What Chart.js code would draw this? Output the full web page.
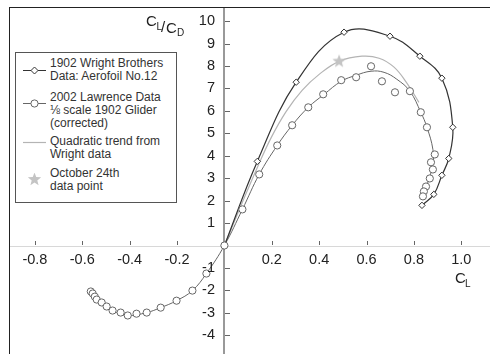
<!DOCTYPE html>
<html>
<head>
<meta charset="utf-8">
<script src="https://cdn.jsdelivr.net/npm/chart.js@4.4.1/dist/chart.umd.min.js"></script>
<style>
  html, body { margin: 0; padding: 0; background: #fff; }
  #marco { position: relative; width: 490px; height: 354px; overflow: hidden; }
  #grafico { position: absolute; left: 0; top: 0; }
  #borde { position: absolute; left: 9px; top: 7px; width: 500px; height: 400px; border-top: 1.5px solid #222; border-left: 1.5px solid #222; pointer-events: none; }
  #leyenda { position: absolute; left: 15px; top: 52px; width: 160px; height: 149px; border: 1px solid #555; background: #fff; font: 12px "Liberation Sans", Arial, sans-serif; color: #333; }
  .texto { position: absolute; left: 34px; line-height: 13.3px; white-space: nowrap; }
  .icono { position: absolute; left: 7px; }
</style>
</head>
<body>
<div id="marco">
  <canvas id="grafico" width="490" height="354"></canvas>
  <div id="borde"></div>
  <div id="leyenda"></div>
</div>
<script>
// 1902 Wright Brothers, Aerofoil No.12 (C_L vs L/D)
const wrightCL = [0.0, 0.139, 0.303, 0.505, 0.699, 0.825, 0.918, 0.964, 0.947, 0.918, 0.884, 0.834]
const wrightLD = [0.0, 3.75, 7.28, 9.51, 9.33, 8.44, 7.46, 5.27, 3.88, 3.13, 2.28, 1.79]

// 2002 Lawrence data, 1/8 scale glider (measured points)
const lawrenceCL = [-0.564, -0.556, -0.547, -0.539, -0.518, -0.497, -0.472, -0.438, -0.408, -0.371, -0.328, -0.269, -0.202, -0.135, -0.076,
  0.0, 0.076, 0.147, 0.223, 0.286, 0.354, 0.417, 0.493, 0.556, 0.619, 0.665, 0.720, 0.783, 0.829, 0.855, 0.888, 0.872, 0.880, 0.867, 0.851, 0.842, 0.838]
const lawrenceLD = [-2.05, -2.14, -2.28, -2.41, -2.54, -2.72, -2.90, -2.99, -3.12, -3.04, -2.99, -2.77, -2.46, -2.01, -1.25,
  0.0, 1.61, 3.17, 4.46, 5.36, 6.16, 6.74, 7.37, 7.50, 7.99, 7.32, 6.83, 6.88, 5.94, 5.27, 4.06, 3.71, 3.39, 2.99, 2.63, 2.41, 2.19]

// smooth curve through the Lawrence points
const curvaLawrenceCL = [-0.564, -0.526, -0.472, -0.408, -0.328, -0.269, -0.202, -0.135, -0.076, 0.0, 0.076, 0.147, 0.223, 0.286,
  0.354, 0.421, 0.493, 0.556, 0.619, 0.674, 0.728, 0.783, 0.829, 0.855, 0.880, 0.880, 0.863, 0.838]
const curvaLawrenceLD = [-2.05, -2.50, -2.90, -3.12, -2.99, -2.77, -2.46, -2.01, -1.25, 0.0, 1.61, 3.17, 4.46, 5.36,
  6.16, 6.74, 7.32, 7.59, 7.77, 7.72, 7.41, 6.88, 5.94, 5.27, 4.29, 3.62, 2.95, 2.19]

// quadratic trend from the Wright data
const tendenciaCL = [0.0, 0.072, 0.139, 0.198, 0.261, 0.328, 0.400, 0.484, 0.581, 0.653, 0.716, 0.771, 0.821]
const tendenciaLD = [0.0, 1.83, 3.48, 4.82, 5.98, 6.92, 7.63, 8.21, 8.44, 8.35, 7.95, 7.23, 6.38]

// October 24th
const octubreCL = [0.484]
const octubreLD = [8.21]

// axis ranges (x range kept off a whole number of steps so ticks stay on multiples of 0.2)
const xMin = -0.905, xMax = 1.1
const yMin = -4.614, yMax = 10.588

const puntos = (xs, ys) => xs.map((v, i) => ({ x: v, y: ys[i] }))

// filled five point star used as marker
function hacerEstrella(radio, color)
{
  const c = document.createElement('canvas')
  c.width = c.height = radio * 2 + 2
  const g = c.getContext('2d')
  g.beginPath()
  for (let i = 0; i < 10; i++)
  {
    const r = i % 2 === 0 ? radio : radio * 0.42
    const a = -Math.PI / 2 + i * Math.PI / 5
    g.lineTo(c.width / 2 + r * Math.cos(a), c.height / 2 + r * Math.sin(a))
  }
  g.closePath()
  g.fillStyle = color
  g.fill()
  return c
}
const estrella = hacerEstrella(7, '#c4c4c4')

const fuente = '"Liberation Sans", Arial, sans-serif'

// axis lines, tick marks, y tick labels and axis titles
const marcasEjes = {
  id: 'marcasEjes',
  beforeDatasetsDraw(chart)
  {
    const { ctx, scales: { x, y } } = chart
    const x0 = Math.round(x.getPixelForValue(0))
    const y0 = Math.round(y.getPixelForValue(0))
    ctx.save()
    // the axes run to the edges of the canvas
    ctx.strokeStyle = '#d8d8d8'
    ctx.lineWidth = 1
    ctx.beginPath()
    ctx.moveTo(10, y0 + 0.5)
    ctx.lineTo(chart.width, y0 + 0.5)
    ctx.stroke()
    ctx.strokeStyle = '#777'
    ctx.lineWidth = 1.5
    ctx.beginPath()
    ctx.moveTo(x0, 8)
    ctx.lineTo(x0, chart.height)
    ctx.stroke()
    ctx.restore()
  },
  afterDraw(chart)
  {
    const { ctx, scales: { x, y } } = chart
    const x0 = Math.round(x.getPixelForValue(0))
    const y0 = Math.round(y.getPixelForValue(0))
    ctx.save()
    ctx.strokeStyle = '#666'
    ctx.lineWidth = 1
    ctx.beginPath()
    x.ticks.forEach(t => {
      if (Math.abs(t.value) < 1e-9) return
      const px = Math.round(x.getPixelForValue(t.value)) + 0.5
      ctx.moveTo(px, y0 - 5)
      ctx.lineTo(px, y0 - 1)
    })
    y.ticks.forEach(t => {
      if (Math.abs(t.value) < 1e-9) return
      const py = Math.round(y.getPixelForValue(t.value)) + 0.5
      ctx.moveTo(x0 + 1, py)
      ctx.lineTo(x0 + 6, py)
    })
    ctx.stroke()

    // y labels sit to the left of the axis, away from it
    ctx.fillStyle = '#222'
    ctx.font = '14.5px ' + fuente
    ctx.textAlign = 'right'
    ctx.textBaseline = 'middle'
    y.ticks.forEach(t => {
      if (Math.abs(t.value) < 1e-9) return
      ctx.fillText(String(t.value), x0 - 9, y.getPixelForValue(t.value))
    })

    ctx.textBaseline = 'alphabetic'
    ctx.textAlign = 'left'
    const texto = (s, px, py, tam) => { ctx.font = tam + 'px ' + fuente; ctx.fillText(s, px, py) }
    texto('C', 146, 26, 15)
    texto('L', 156.5, 30, 10)
    texto('/', 161, 32, 15)
    texto('C', 166, 33, 15)
    texto('D', 177, 36, 10)
    texto('C', 455, 283, 15)
    texto('L', 465, 287, 10)
    ctx.restore()
  }
}

const ctx = document.getElementById('grafico').getContext('2d')
const chart = new Chart(ctx, {
  type: 'scatter',
  data: {
    datasets: [
      {
        label: 'October 24th data point',
        data: puntos(octubreCL, octubreLD),
        pointStyle: estrella,
        order: 0
      },
      {
        label: '2002 Lawrence Data',
        data: puntos(lawrenceCL, lawrenceLD),
        showLine: false,
        pointStyle: 'circle',
        pointRadius: 3.6,
        pointBorderWidth: 1,
        pointBorderColor: '#666',
        pointBackgroundColor: '#fff',
        order: 1
      },
      {
        label: '1902 Wright Brothers',
        data: puntos(wrightCL, wrightLD),
        showLine: true,
        tension: 0.4,
        borderColor: '#333',
        borderWidth: 1.2,
        pointStyle: 'rectRot',
        pointRadius: 3.2,
        pointBorderWidth: 1,
        pointBorderColor: '#333',
        pointBackgroundColor: '#fff',
        order: 2
      },
      {
        label: 'Lawrence curve',
        data: puntos(curvaLawrenceCL, curvaLawrenceLD),
        showLine: true,
        tension: 0.4,
        borderColor: '#666',
        borderWidth: 1,
        pointRadius: 0,
        order: 3
      },
      {
        label: 'Quadratic trend from Wright data',
        data: puntos(tendenciaCL, tendenciaLD),
        showLine: true,
        tension: 0.4,
        borderColor: '#b4b4b4',
        borderWidth: 1.2,
        pointRadius: 0,
        order: 4
      }
    ]
  },
  options: {
    responsive: false,
    animation: false,
    // chart area ends up at 10..485 x 8..349
    layout: { padding: { left: 10, top: 8, right: 0, bottom: 0 } },
    plugins: { legend: { display: false }, tooltip: { enabled: false } },
    scales: {
      x: {
        type: 'linear',
        position: { y: 0 },
        min: xMin,
        max: xMax,
        afterFit: (escala) => { escala.height = 0 },
        border: { display: false },
        grid: { display: false, drawTicks: false, tickLength: 0 },
        ticks: {
          stepSize: 0.2,
          includeBounds: false,
          autoSkip: false,
          maxRotation: 0,
          padding: 6,
          color: '#222',
          font: { family: fuente, size: 14.5 },
          callback: (v) => Math.abs(v) < 1e-9 ? '' : v.toFixed(1)
        }
      },
      y: {
        type: 'linear',
        position: { x: 0 },
        min: yMin,
        max: yMax,
        afterFit: (escala) => { escala.width = 0 },
        border: { display: false },
        grid: { display: false },
        ticks: {
          display: false,
          stepSize: 1,
          includeBounds: false
        }
      }
    }
  },
  plugins: [marcasEjes]
})

// legend box
const entradasLeyenda = [
  { lineas: ['1902 Wright Brothers', 'Data: Aerofoil No.12'], arriba: 4, icono: 'rombo', iconoY: 17 },
  { lineas: ['2002 Lawrence Data', '⅛ scale 1902 Glider', '(corrected)'], arriba: 37.5, icono: 'circulo', iconoY: 50 },
  { lineas: ['Quadratic trend from', 'Wright data'], arriba: 81.5, icono: 'linea', iconoY: 89 },
  { lineas: ['October 24th', 'data point'], arriba: 114, icono: 'estrella', iconoY: 126 }
]

function svgIcono(tipo)
{
  if (tipo === 'rombo')
    return '<line x1="0" y1="6.5" x2="23" y2="6.5" stroke="#333" stroke-width="1"/>' +
      '<path d="M11.5 3 L15 6.5 L11.5 10 L8 6.5 Z" fill="#fff" stroke="#333" stroke-width="1"/>'
  if (tipo === 'circulo')
    return '<line x1="0" y1="6.5" x2="23" y2="6.5" stroke="#666" stroke-width="1"/>' +
      '<circle cx="11.5" cy="6.5" r="3.6" fill="#fff" stroke="#666" stroke-width="1"/>'
  if (tipo === 'linea')
    return '<line x1="0" y1="6.5" x2="23" y2="6.5" stroke="#b4b4b4" stroke-width="1.2"/>'
  let p = []
  for (let i = 0; i < 10; i++)
  {
    const r = i % 2 === 0 ? 7 : 7 * 0.42
    const a = -Math.PI / 2 + i * Math.PI / 5
    p.push((11.5 + r * Math.cos(a)).toFixed(2) + ',' + (6.5 + r * Math.sin(a)).toFixed(2))
  }
  return '<polygon points="' + p.join(' ') + '" fill="#c4c4c4"/>'
}

const leyenda = document.getElementById('leyenda')
entradasLeyenda.forEach((e) => {
  const t = document.createElement('div')
  t.className = 'texto'
  t.style.top = e.arriba + 'px'
  t.innerHTML = e.lineas.join('<br>')
  leyenda.appendChild(t)
  const s = document.createElementNS('http://www.w3.org/2000/svg', 'svg')
  s.setAttribute('class', 'icono')
  s.setAttribute('width', '24')
  s.setAttribute('height', '14')
  s.style.top = (e.iconoY - 6.5) + 'px'
  s.innerHTML = svgIcono(e.icono)
  leyenda.appendChild(s)
})
</script>
</body>
</html>
